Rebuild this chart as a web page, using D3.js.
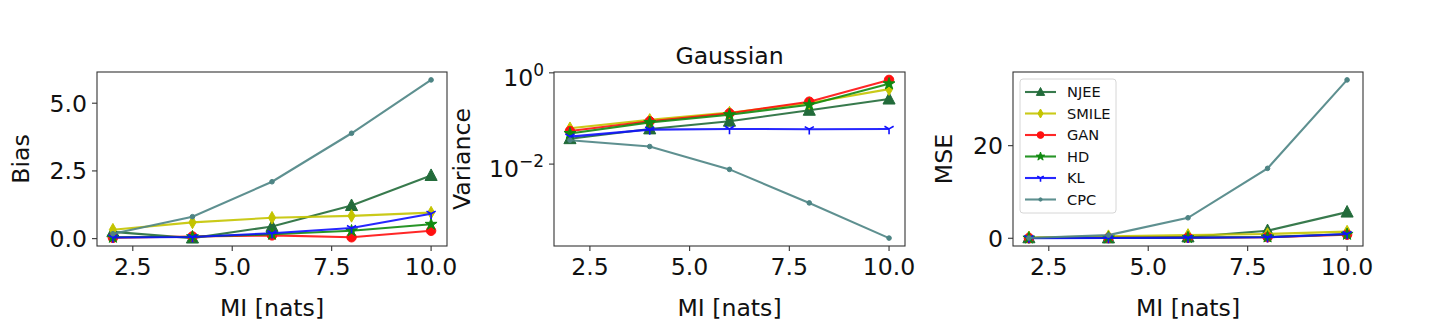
<!DOCTYPE html>
<html>
<head>
<meta charset="utf-8">
<script src="https://cdn.jsdelivr.net/npm/d3@7"></script>
<style>
  body { margin: 0; background: #fff; }
  text { font-family: "DejaVu Sans", sans-serif; fill: #111; }
</style>
</head>
<body>
<svg id="chart" width="1440" height="336"></svg>
<script>
// x values shared by all panels
const miValues = [2, 4, 6, 8, 10];
const methods = ["NJEE", "SMILE", "GAN", "HD", "KL", "CPC"];
const methodColors = ["#226b3a", "#c4c400", "#ff1010", "#108a10", "#1010ff", "#4d8484"];
const methodMarkers = ["triangle", "diamond", "circle", "star", "tri", "point"];

// rows follow the order of `methods`
const biasValues = [
    [0.25, 0.02, 0.45, 1.22, 2.33],
    [0.33, 0.60, 0.77, 0.84, 0.96],
    [0.03, 0.08, 0.12, 0.05, 0.29],
    [0.05, 0.07, 0.16, 0.29, 0.53],
    [0.04, 0.06, 0.20, 0.39, 0.92],
    [0.18, 0.81, 2.10, 3.89, 5.86]
];
const varianceValues = [
    [0.036, 0.059, 0.087, 0.151, 0.266],
    [0.061, 0.093, 0.134, 0.218, 0.44],
    [0.053, 0.087, 0.130, 0.233, 0.70],
    [0.047, 0.082, 0.121, 0.200, 0.575],
    [0.040, 0.057, 0.059, 0.058, 0.059],
    [0.0334, 0.0243, 0.00766, 0.00141, 0.000239]
];
const mseValues = [
    [0.10, 0.06, 0.29, 1.64, 5.65],
    [0.17, 0.45, 0.72, 0.93, 1.44],
    [0.05, 0.09, 0.14, 0.23, 0.78],
    [0.05, 0.09, 0.15, 0.28, 0.86],
    [0.04, 0.06, 0.10, 0.21, 0.91],
    [0.06, 0.68, 4.42, 15.1, 34.2]
];

const biasTicks = [0, 2.5, 5];
const varianceTicks = [1, 0.01];
const mseTicks = [0, 20];
const xTicks = [2.5, 5, 7.5, 10];

const svg = d3.select("#chart");
const fontSize = 23.6;
const plotTop = 72, plotBottom = 246;

function padExtent(ext, frac) {
    let span = ext[1] - ext[0];
    return [ext[0] - span * frac, ext[1] + span * frac];
}

function markerPath(type, s) {
    if (type === "triangle") {
        return "M0," + (-s * 0.6) + "L" + (s * 0.55) + "," + (s * 0.45) + "L" + (-s * 0.55) + "," + (s * 0.45) + "Z";
    }
    if (type === "diamond") {
        return "M0," + (-s * 0.6) + "L" + (s * 0.34) + ",0L0," + (s * 0.6) + "L" + (-s * 0.34) + ",0Z";
    }
    if (type === "circle") {
        return d3.symbol(d3.symbolCircle, Math.PI * Math.pow(s * 0.45, 2))();
    }
    if (type === "star") {
        return d3.symbol(d3.symbolStar, s * s * 0.4)();
    }
    if (type === "tri") {
        let r = s * 0.5;
        return "M0,0L0," + r + "M0,0L" + (-r * 0.87) + "," + (-r * 0.5) + "M0,0L" + (r * 0.87) + "," + (-r * 0.5);
    }
    // point
    return d3.symbol(d3.symbolCircle, Math.PI * Math.pow(s * 0.22, 2))();
}

function drawMarker(g, type, color, s, x, y) {
    let filled = type !== "tri";
    g.append("path")
        .attr("d", markerPath(type, s))
        .attr("transform", "translate(" + x + "," + y + ")")
        .style("fill", filled ? color : "none")
        .style("stroke", color)
        .style("stroke-width", filled ? 1 : 1.6);
}

function drawPanel(opts) {
    let g = svg.append("g");

    let x = d3.scaleLinear()
        .domain(padExtent(d3.extent(miValues), 0.05))
        .range([opts.left, opts.right]);

    let all = d3.merge(opts.values);
    let y;
    if (opts.log) {
        let lext = padExtent(d3.extent(all).map(Math.log10), 0.05);
        y = d3.scaleLog().domain([Math.pow(10, lext[0]), Math.pow(10, lext[1])]).range([plotBottom, plotTop]);
    } else {
        y = d3.scaleLinear().domain(padExtent(d3.extent(all), 0.05)).range([plotBottom, plotTop]);
    }

    let clipId = "clip" + opts.left;
    g.append("clipPath").attr("id", clipId)
        .append("rect")
        .attr("x", opts.left).attr("y", plotTop)
        .attr("width", opts.right - opts.left).attr("height", plotBottom - plotTop);

    let line = d3.line()
        .x(function (d, i) { return x(miValues[i]); })
        .y(function (d) { return y(d); });

    let plot = g.append("g").attr("clip-path", "url(#" + clipId + ")");

    opts.values.forEach(function (vals, k) {
        plot.append("path")
            .attr("d", line(vals))
            .style("fill", "none")
            .style("stroke", methodColors[k])
            .style("stroke-width", 2.1)
            .style("stroke-opacity", 0.9);
        let msize = methodMarkers[k] === "triangle" ? 11 : 10.5;
        vals.forEach(function (v, i) {
            drawMarker(plot, methodMarkers[k], methodColors[k], msize, x(miValues[i]), y(v));
        });
    });

    // frame
    g.append("rect")
        .attr("x", opts.left).attr("y", plotTop)
        .attr("width", opts.right - opts.left).attr("height", plotBottom - plotTop)
        .style("fill", "none")
        .style("stroke", "#333")
        .style("stroke-width", 1.1);

    // x ticks
    let xt = g.selectAll(".xt").data(xTicks).enter().append("g")
        .attr("transform", function (d) { return "translate(" + x(d) + "," + plotBottom + ")"; });
    xt.append("line").attr("y2", 5).style("stroke", "#333").style("stroke-width", 1.1);
    xt.append("text")
        .attr("y", 28.5)
        .attr("text-anchor", "middle")
        .style("font-size", fontSize + "px")
        .text(function (d) { return d.toFixed(1); });

    // y ticks
    let yt = g.selectAll(".yt").data(opts.ticks).enter().append("g")
        .attr("transform", function (d) { return "translate(" + opts.left + "," + y(d) + ")"; });
    yt.append("line").attr("x2", -5).style("stroke", "#333").style("stroke-width", 1.1);
    let ytxt = yt.append("text")
        .attr("x", -10)
        .attr("text-anchor", "end")
        .style("font-size", fontSize + "px");
    if (opts.log) {
        ytxt.attr("dy", "0.55em").text("10");
        ytxt.append("tspan")
            .attr("dy", "-0.6em")
            .style("font-size", (fontSize * 0.72) + "px")
            .text(function (d) {
                let p = Math.round(Math.log10(d));
                return p === 0 ? "0" : "\u2212" + Math.abs(p);
            });
    } else {
        ytxt.attr("dy", "0.36em").text(opts.tickFormat);
    }

    // labels
    let cx = (opts.left + opts.right) / 2;
    g.append("text")
        .attr("x", cx).attr("y", 316)
        .attr("text-anchor", "middle")
        .style("font-size", fontSize + "px")
        .text("MI [nats]");

    g.append("text")
        .attr("transform", "translate(" + opts.ylabelX + "," + ((plotTop + plotBottom) / 2) + ") rotate(-90)")
        .attr("text-anchor", "middle")
        .attr("dy", "0.36em")
        .style("font-size", fontSize + "px")
        .text(opts.ylabel);

    if (opts.title) {
        g.append("text")
            .attr("x", cx).attr("y", 64)
            .attr("text-anchor", "middle")
            .style("font-size", fontSize + "px")
            .text(opts.title);
    }

    if (opts.legend) {
        let lg = g.append("g");
        lg.append("rect")
            .attr("x", opts.left + 7).attr("y", 79)
            .attr("width", 96).attr("height", 134)
            .attr("rx", 3)
            .style("fill", "#fff")
            .style("fill-opacity", 0.8)
            .style("stroke", "#d6d6d6");
        methods.forEach(function (m, k) {
            let ly = 92 + k * 21.5;
            lg.append("line")
                .attr("x1", opts.left + 12).attr("x2", opts.left + 43)
                .attr("y1", ly).attr("y2", ly)
                .style("stroke", methodColors[k])
                .style("stroke-width", 2.1)
                .style("stroke-opacity", 0.9);
            drawMarker(lg, methodMarkers[k], methodColors[k], 7.5, opts.left + 27.5, ly);
            lg.append("text")
                .attr("x", opts.left + 54).attr("y", ly)
                .attr("dy", "0.36em")
                .style("font-size", "14.6px")
                .text(m);
        });
    }
}

drawPanel({ left: 97, right: 447, values: biasValues, ticks: biasTicks,
    tickFormat: function (d) { return d.toFixed(1); }, ylabel: "Bias", ylabelX: 20 });
drawPanel({ left: 554, right: 905, values: varianceValues, ticks: varianceTicks, log: true,
    ylabel: "Variance", ylabelX: 461, title: "Gaussian" });
drawPanel({ left: 1013, right: 1363, values: mseValues, ticks: mseTicks,
    tickFormat: function (d) { return d; }, ylabel: "MSE", ylabelX: 943, legend: true });
</script>
</body>
</html>
